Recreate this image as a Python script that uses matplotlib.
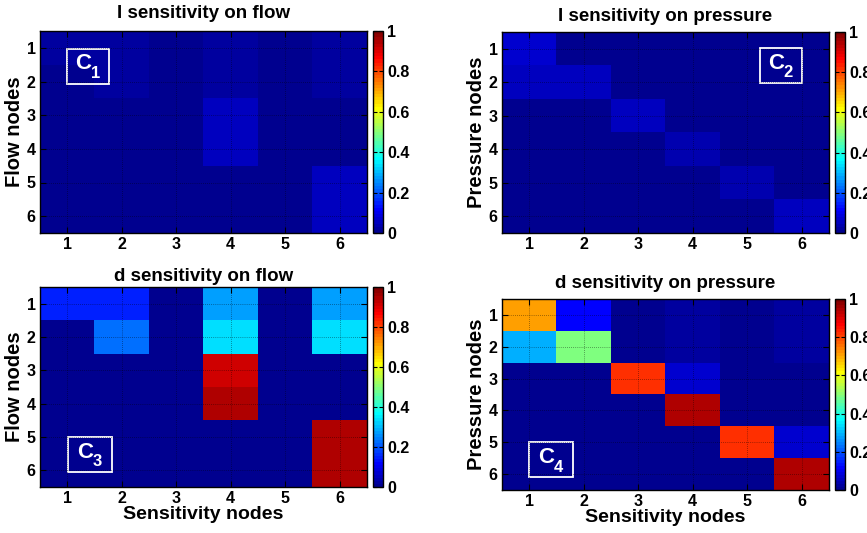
import matplotlib
matplotlib.use("Agg")
import matplotlib.pyplot as plt
import numpy as np
from matplotlib.colors import ListedColormap
from matplotlib.patches import Rectangle

# ==================================================================================================================== #

nodes = [1, 2, 3, 4, 5, 6]
cbar_ticks = [0, 0.2, 0.4, 0.6, 0.8, 1]
cbar_labels = ["0", "0.2", "0.4", "0.6", "0.8", "1"]

titles = ["I sensitivity on flow", "I sensitivity on pressure",
          "d sensitivity on flow", "d sensitivity on pressure"]
ylabels = ["Flow nodes", "Pressure nodes", "Flow nodes", "Pressure nodes"]
tags = ["1", "2", "3", "4"]

i_flow = [
    [0.020, 0.025, 0.010, 0.025, 0.010, 0.025],
    [0.015, 0.030, 0.010, 0.025, 0.010, 0.030],
    [0.010, 0.010, 0.010, 0.055, 0.010, 0.005],
    [0.010, 0.010, 0.010, 0.055, 0.010, 0.005],
    [0.010, 0.010, 0.010, 0.010, 0.010, 0.055],
    [0.010, 0.010, 0.010, 0.010, 0.010, 0.055],
]
i_pressure = [
    [0.070, 0.010, 0.010, 0.010, 0.010, 0.010],
    [0.055, 0.055, 0.010, 0.010, 0.010, 0.010],
    [0.012, 0.012, 0.050, 0.010, 0.010, 0.010],
    [0.010, 0.010, 0.010, 0.045, 0.010, 0.010],
    [0.010, 0.010, 0.010, 0.010, 0.045, 0.010],
    [0.012, 0.012, 0.012, 0.012, 0.012, 0.050],
]
d_flow = [
    [0.15, 0.15, 0.01, 0.28, 0.01, 0.28],
    [0.01, 0.23, 0.01, 0.33, 0.01, 0.33],
    [0.01, 0.01, 0.01, 0.92, 0.01, 0.01],
    [0.01, 0.01, 0.01, 0.94, 0.01, 0.01],
    [0.01, 0.01, 0.01, 0.01, 0.01, 0.94],
    [0.01, 0.01, 0.01, 0.01, 0.01, 0.94],
]
d_pressure = [
    [0.71, 0.12, 0.01, 0.02, 0.01, 0.025],
    [0.29, 0.49, 0.01, 0.02, 0.01, 0.025],
    [0.01, 0.01, 0.82, 0.07, 0.01, 0.015],
    [0.01, 0.01, 0.01, 0.94, 0.01, 0.015],
    [0.01, 0.01, 0.01, 0.01, 0.82, 0.075],
    [0.01, 0.01, 0.01, 0.01, 0.01, 0.94],
]
matrices = [i_flow, i_pressure, d_flow, d_pressure]

# ==================================================================================================================== #

plt.rcParams["font.family"] = ["Liberation Sans", "DejaVu Sans"]
plt.rcParams["font.weight"] = "bold"


def matlab_jet(n=64):
    idx = np.arange(n)
    red = np.interp(idx, [0, 23, 39, 55, 63], [0, 0, 1, 1, 0.5])
    green = np.interp(idx, [0, 7, 23, 39, 55, 63], [0, 0, 1, 1, 0, 0])
    blue = np.interp(idx, [0, 7, 23, 39, 63], [0.5625, 1, 1, 0, 0])
    return ListedColormap(np.column_stack([red, green, blue]))


W, H = 867, 533


def px_axes(fig, x0, y0, x1, y1):
    return fig.add_axes([x0 / W, 1 - y1 / H, (x1 - x0) / W, (y1 - y0) / H])


# pixel boxes: (axes, colorbar, title pad, tag box corners in data units)
layout = [
    ((40, 31, 367, 233), (373, 31, 383, 233), 9, (1.0, 1.03, 1.77, 2.07)),
    ((502, 32, 829, 233), (835, 32, 845, 233), 8, (5.23, 0.98, 6.0, 2.02)),
    ((40, 287, 367, 487), (373, 287, 383, 487), 4, (1.01, 5.0, 1.82, 6.05)),
    ((502, 299, 829, 490), (835, 299, 845, 490), 8, (1.0, 5.0, 1.8, 6.1)),
]

cmap = matlab_jet()
fig = plt.figure(figsize=(W / 100, H / 100), dpi=100)

for k, (matrix, title, ylabel, tag) in enumerate(zip(matrices, titles, ylabels, tags)):
    ax_box, cb_box, pad, tag_box = layout[k]
    ax = px_axes(fig, *ax_box)
    im = ax.imshow(np.array(matrix), cmap=cmap, vmin=0, vmax=1, aspect="auto",
                   interpolation="nearest", extent=(0.5, 6.5, 6.5, 0.5))
    ax.set_xticks(nodes)
    ax.set_yticks(nodes)
    ax.tick_params(direction="in", length=4, width=0.8, top=True, right=True, labelsize=11.5, pad=3)
    ax.grid(True, color="black", linestyle=(0, (1, 2)), linewidth=0.5, alpha=0.7)
    for spine in ax.spines.values():
        spine.set_linewidth(1.0)
    ax.set_title(title, fontsize=13.5, fontweight="bold", pad=pad)
    ax.set_ylabel(ylabel, fontsize=14.5, fontweight="bold", labelpad=2)
    if k >= 2:
        ax.set_xlabel("Sensitivity nodes", fontsize=14, fontweight="bold", labelpad=0)

    # tag box
    x0, y0, x1, y1 = tag_box
    ax.add_patch(Rectangle((x0, y0), x1 - x0, y1 - y0, fill=False, edgecolor="white", linewidth=1.3))
    cx, cy = (x0 + x1) / 2, (y0 + y1) / 2
    ax.text(cx - 0.09, cy - 0.07, "C", color="white", fontsize=16, fontweight="bold", ha="center", va="center")
    ax.annotate(tag, xy=(cx - 0.09, cy - 0.07), xytext=(8.5, -7), textcoords="offset points",
                color="white", fontsize=12, fontweight="bold", ha="center", va="center")

    cax = px_axes(fig, *cb_box)
    cb = fig.colorbar(im, cax=cax, ticks=cbar_ticks)
    cb.ax.set_yticklabels(cbar_labels)
    cb.ax.tick_params(direction="in", length=3, width=0.8, left=True, right=True, labelsize=11.5, pad=3)
    cb.outline.set_linewidth(1.0)

fig.savefig("out.png", dpi=100)
